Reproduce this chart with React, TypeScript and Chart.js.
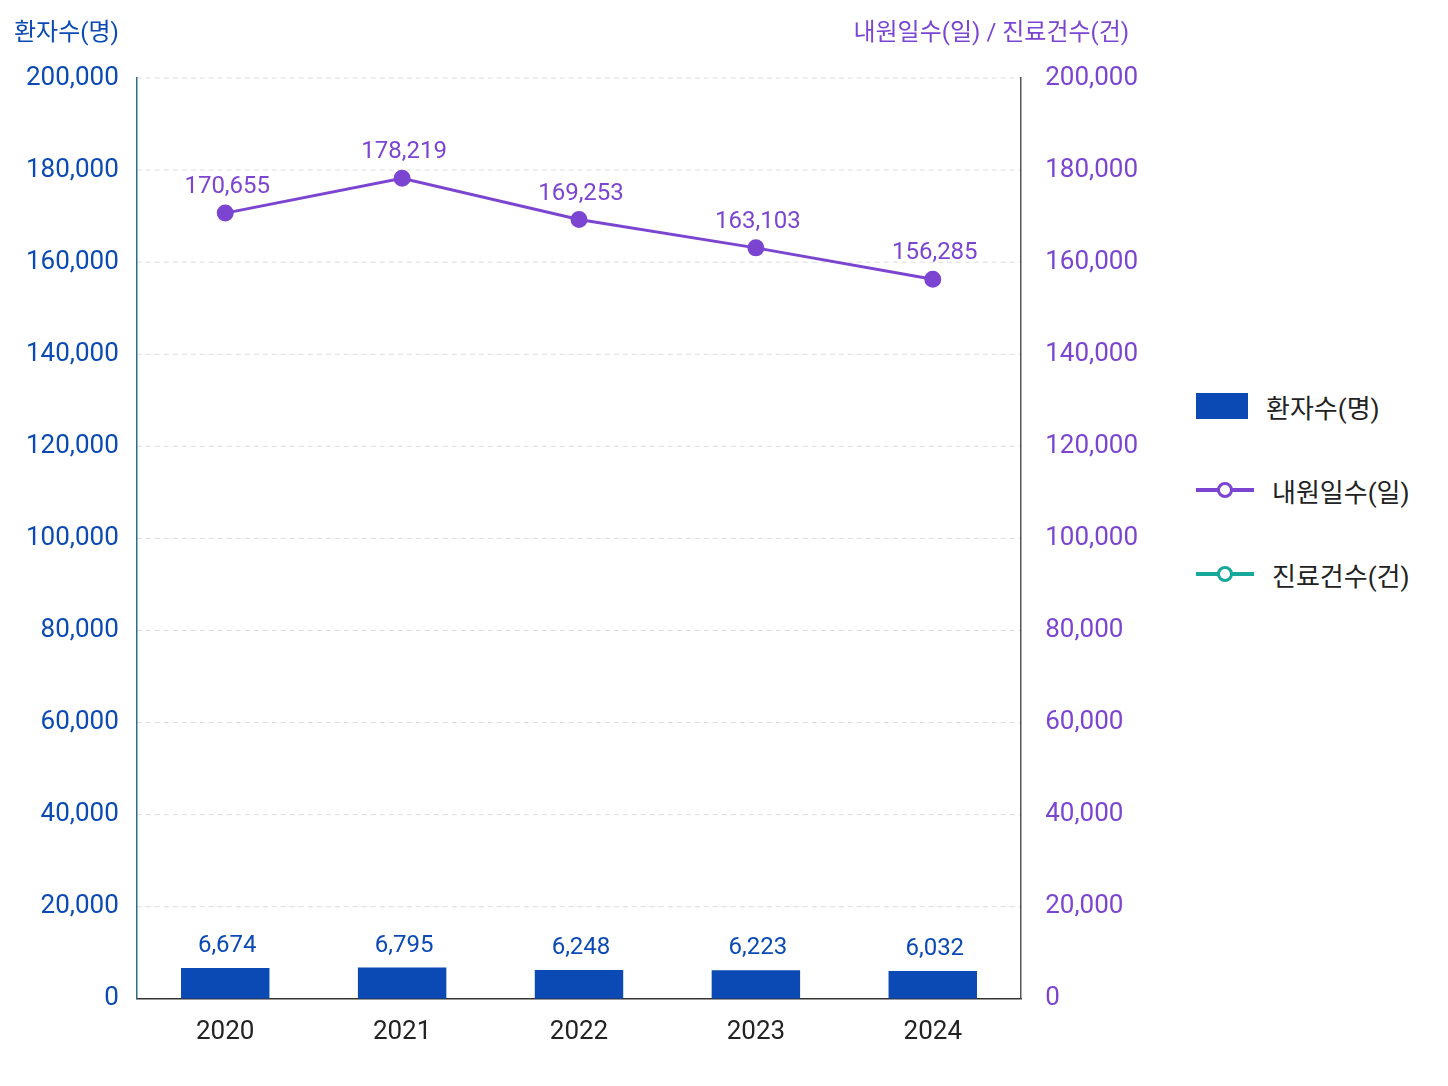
import React, { useEffect, useRef } from "react";
import Chart from "chart.js/auto";

const years = ["2020", "2021", "2022", "2023", "2024"];
const patients = [6674, 6795, 6248, 6223, 6032];
const visits = [170655, 178219, 169253, 163103, 156285];
const claims: (number | null)[] = [null, null, null, null, null];
const ticks = [0, 20000, 40000, 60000, 80000, 100000, 120000, 140000, 160000, 180000, 200000];

const BLUE = "#0b4ab4";
const PURPLE = "#7b45d2";
const TEAL = "#16a89a";
const FONT = "Roboto, 'Noto Sans CJK KR', sans-serif";
const fmt = (v: number) => v.toLocaleString("en-US");

const labelPlugin = {
  id: "labels",
  afterDatasetsDraw(chart: any) {
    const ctx = chart.ctx;
    ctx.save();
    ctx.font = `24px ${FONT}`;
    ctx.textAlign = "center";
    ctx.textBaseline = "bottom";
    chart.data.datasets.forEach((ds: any, i: number) => {
      const meta = chart.getDatasetMeta(i);
      meta.data.forEach((el: any, j: number) => {
        const v = ds.data[j];
        if (v == null) return;
        ctx.fillStyle = ds.type === "bar" ? BLUE : PURPLE;
        const dy = ds.type === "bar" ? 10 : 14;
        ctx.fillText(fmt(v), el.x + 2, el.y - dy);
      });
    });
    const a = chart.chartArea;
    ctx.font = `24px ${FONT}`;
    ctx.textBaseline = "alphabetic";
    ctx.textAlign = "left";
    ctx.fillStyle = BLUE;
    ctx.fillText("환자수(명)", 6, a.top - 38);
    ctx.textAlign = "right";
    ctx.fillStyle = PURPLE;
    ctx.fillText("내원일수(일) / 진료건수(건)", a.right + 108, a.top - 38);
    ctx.restore();
  },
};

export default function App() {
  const ref = useRef<HTMLCanvasElement>(null);
  useEffect(() => {
    const chart = new Chart(ref.current!, {
      type: "bar",
      data: {
        labels: years,
        datasets: [
          { type: "bar", label: "환자수(명)", data: patients, backgroundColor: BLUE, yAxisID: "y", barPercentage: 0.5, categoryPercentage: 1, order: 2 },
          { type: "line", label: "내원일수(일)", data: visits, borderColor: PURPLE, backgroundColor: PURPLE, borderWidth: 3, pointRadius: 7, yAxisID: "y1", order: 1 },
          { type: "line", label: "진료건수(건)", data: claims, borderColor: TEAL, backgroundColor: TEAL, yAxisID: "y1", order: 0 },
        ] as any,
      },
      options: {
        animation: false,
        responsive: false,
        layout: { padding: { top: 70, right: 4, bottom: 10, left: 0 } },
        plugins: { legend: { display: false }, tooltip: { enabled: false } },
        scales: {
          x: {
            grid: { display: false },
            border: { color: "#333", width: 1.5 },
            ticks: { color: "#222", font: { size: 26, family: FONT }, padding: 10 },
          },
          y: {
            min: 0, max: 200000,
            afterBuildTicks: (s: any) => { s.ticks = ticks.map((v) => ({ value: v })); },
            grid: { color: "#dddddd", tickLength: 0, drawTicks: false } as any,
            border: { color: "#2a6f86", width: 1.5, dash: [] } as any,
            ticks: { color: BLUE, font: { size: 26, family: FONT }, padding: 18, callback: (v: any) => fmt(v) },
          },
          y1: {
            position: "right",
            min: 0, max: 200000,
            afterBuildTicks: (s: any) => { s.ticks = ticks.map((v) => ({ value: v })); },
            grid: { display: false },
            border: { color: "#555", width: 1.5 },
            ticks: { color: PURPLE, font: { size: 26, family: FONT }, padding: 16, callback: (v: any) => fmt(v) },
          },
        },
      } as any,
      plugins: [
        labelPlugin,
        {
          id: "dash",
          beforeDraw(c: any) {
            const y = c.scales.y; const a = c.chartArea; const ctx = c.ctx;
            ctx.save(); ctx.strokeStyle = "#dcdcdc"; ctx.setLineDash([5, 4]); ctx.lineWidth = 1;
            ticks.slice(1).forEach((t) => { const py = y.getPixelForValue(t); ctx.beginPath(); ctx.moveTo(a.left, py); ctx.lineTo(a.right, py); ctx.stroke(); });
            ctx.restore();
          },
        },
      ],
    });
    (chart.options.scales as any).y.grid.display = false;
    chart.update();
    return () => chart.destroy();
  }, []);

  const item = (label: string, color: string, bar: boolean) => (
    <div style={{ display: "flex", alignItems: "center", height: 84 }}>
      {bar ? (
        <div style={{ width: 52, height: 26, background: color }} />
      ) : (
        <div style={{ width: 58, height: 26, position: "relative" }}>
          <div style={{ position: "absolute", top: 11, left: 0, width: 58, height: 4, background: color }} />
          <div style={{ position: "absolute", top: 5, left: 21, width: 10, height: 10, borderRadius: 8, border: `3px solid ${color}`, background: "#fff" }} />
        </div>
      )}
      <span style={{ marginLeft: 18, fontSize: 26, fontFamily: FONT, color: "#222" }}>{label}</span>
    </div>
  );

  return (
    <div style={{ position: "relative", width: 1432, height: 1070, background: "#fff" }}>
      <canvas ref={ref} width={1150} height={1060} />
      <div style={{ position: "absolute", left: 1188, top: 356 }}>
        {item("환자수(명)", BLUE, true)}
        {item("내원일수(일)", PURPLE, false)}
        {item("진료건수(건)", TEAL, false)}
      </div>
    </div>
  );
}
